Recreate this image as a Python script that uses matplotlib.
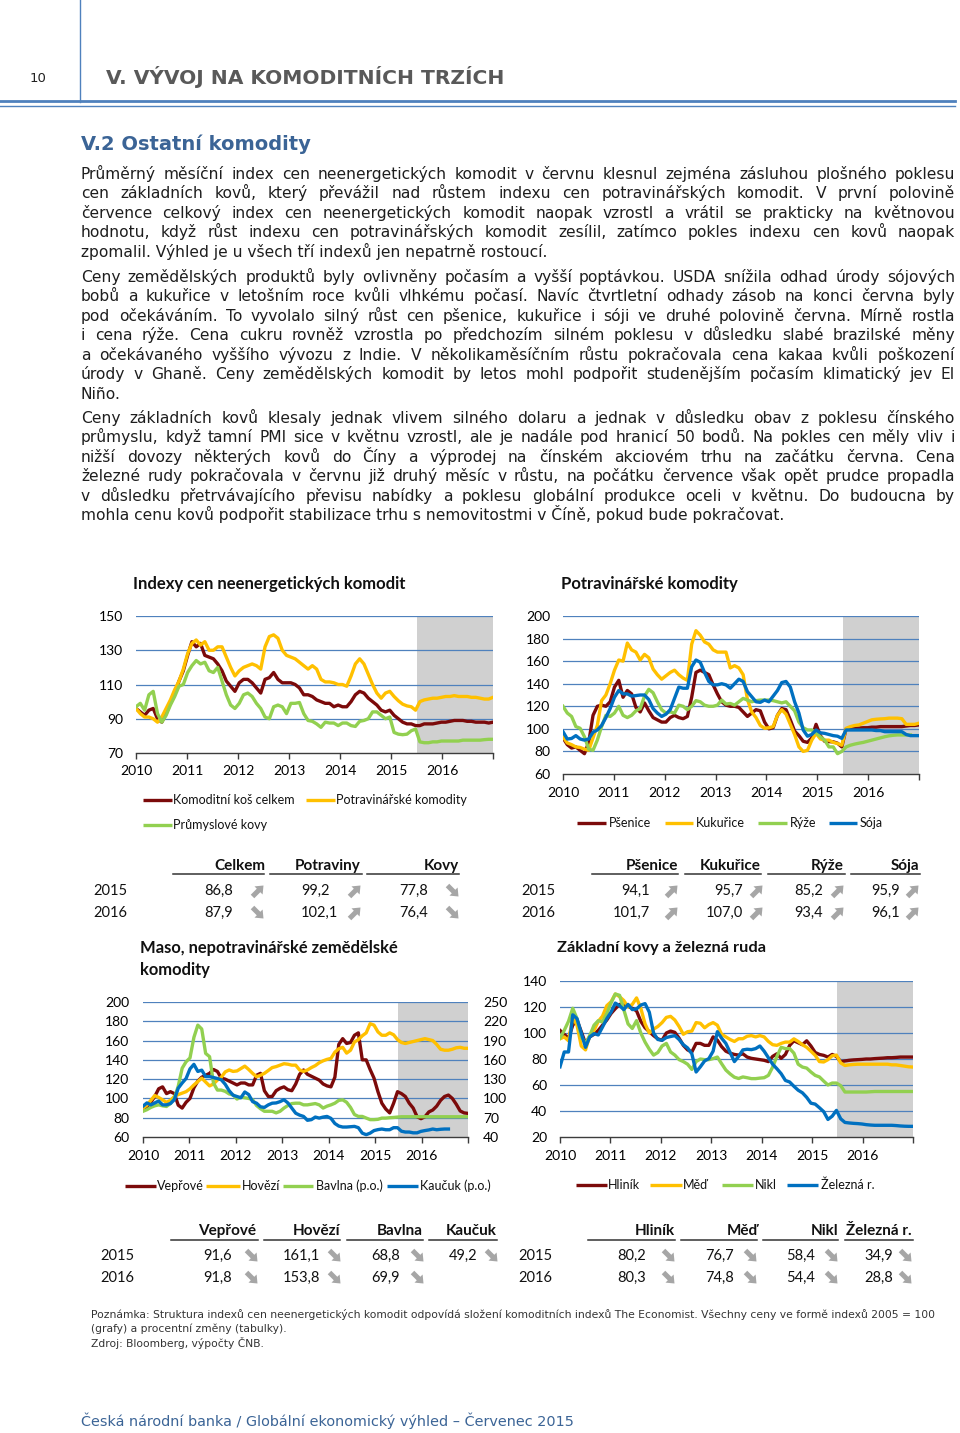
import numpy as np
import matplotlib
matplotlib.use('Agg')
import matplotlib.pyplot as plt
from matplotlib.patches import FancyArrow

plt.rcParams['font.family'] = ['Lato', 'DejaVu Sans']
nan = np.nan

# ======================= DATA =======================
year_labels = ['2010', '2011', '2012', '2013', '2014', '2015', '2016']
forecast_start = 2015.5

# Chart 1: Indexy cen neenergetických komodit
ch1_title = 'Indexy cen neenergetických komodit'
ch1_labels = ['Komoditní koš celkem', 'Potravinářské komodity', 'Průmyslové kovy']
ch1_yticks = [70, 90, 110, 130, 150]
ch1_total = [96, 94, 92, 95, 96, 90, 88, 93, 99, 105, 112, 118,
             127, 135, 132, 134, 127, 126, 125, 122, 118, 112, 109, 106,
             111, 113, 113, 111, 108, 105, 113, 114, 117, 113, 111, 111,
             111, 110, 108, 104, 104, 103, 101, 100, 99, 99, 97, 98,
             97, 97, 100, 104, 106, 105, 102, 100, 98, 95, 94, 95,
             92, 90, 88, 87, 87, 86, 86, 87, 87, 87, 87.5, 88,
             88, 88.5, 89, 89, 89, 88.5, 88.5, 88, 88, 88, 87.5, 88]
ch1_food = [96, 93, 91, 91, 90, 88, 91, 96, 101, 107, 112, 119,
            128, 134, 136, 133, 135, 130, 130, 132, 132, 126, 120, 115,
            118, 120, 121, 122, 121, 119, 132, 138, 139, 137, 130, 127,
            126, 125, 123, 121, 119, 121, 119, 113, 111.5, 111.5, 111, 110,
            110, 109, 115, 122, 125, 122, 116, 110, 105, 102, 105, 106,
            103, 100.5, 98.5, 97.5, 97, 95, 100, 101, 101.5, 102, 102, 102.5,
            103, 103, 103.5, 103, 103, 103, 102.5, 102.5, 102, 101.5, 101.5, 102.5]
ch1_metals = [97, 99, 95, 104, 106, 93, 88, 92, 98, 103, 109, 110,
              117, 121, 124, 122, 123, 118, 117, 120, 112, 104, 98, 96,
              99, 104, 105, 103, 99, 96, 91, 90, 97, 98, 97, 93,
              99, 99, 99.5, 93, 89, 88.5, 87, 85, 88, 87.5, 87.5, 86,
              87.5, 87.5, 86, 85.5, 88.5, 89, 90, 94, 94, 92, 90, 91,
              82, 81, 80.7, 81, 83, 84, 76.5, 76, 76, 76.5, 76.5, 77,
              77, 77, 77, 77, 77.5, 77.5, 77.5, 77.5, 77.5, 77.8, 78, 78]

# Chart 2: Potravinářské komodity
ch2_title = 'Potravinářské komodity'
ch2_labels = ['Pšenice', 'Kukuřice', 'Rýže', 'Sója']
ch2_yticks = [60, 80, 100, 120, 140, 160, 180, 200]
ch2_wheat = [92, 86, 83, 84, 81, 78, 88, 112, 120, 121, 120, 124,
             137, 143, 128, 134, 131, 119, 115, 123, 116, 110, 108, 106,
             106, 110, 112, 110, 109, 111, 128, 150, 152, 150, 148, 139,
             131, 124, 121, 120, 120, 119, 115, 111, 114, 117, 116, 106,
             100, 101, 112, 118, 117, 108, 98, 94, 89, 88, 92, 104,
             94, 89, 88.7, 88.5, 87.3, 84, 100, 100.3, 100.5, 100.7, 101, 101,
             101.5, 101.5, 102, 102, 102, 102, 102, 102, 102.5, 103, 103, 103.5]
ch2_corn = [93, 87.5, 86, 84, 83.5, 82, 81, 92, 103, 125, 130, 140,
            152, 161, 160, 176, 170, 168, 161, 166, 163, 153, 148, 144,
            147, 150, 152, 148, 145, 143, 175, 187, 183, 177, 175, 170,
            168, 168, 168, 154, 156, 154, 148, 126, 115, 110, 103, 100.5,
            101, 102, 112, 117, 113, 104, 95, 84, 80, 81, 90, 96,
            91, 90, 90, 88, 87, 85.5, 100.5, 102, 103, 103.5, 105, 106.5,
            108, 108.5, 108.8, 109, 109.5, 109.5, 109.5, 109, 104, 104, 104, 105]
ch2_rice = [120, 114, 111, 102, 100.5, 93, 82, 81, 90, 102, 112, 111,
            114, 120, 112, 110, 112, 116, 118, 129, 135, 132, 124, 117,
            114, 115, 114, 121, 120, 117, 120, 125, 124, 121, 120, 120,
            121, 125.5, 122, 122.5, 121, 124, 127, 125.5, 124, 125, 125.5, 125.5,
            125.5, 125, 124, 123, 124, 120, 116, 106, 101, 99, 99, 96.5,
            93, 90, 84, 84, 78, 80, 84, 85.5, 86.5, 87.3, 88, 89,
            90, 91, 92, 93, 93.8, 94.3, 94.6, 94.6, 94.6, 94.6, nan, nan]
ch2_soy = [97.5, 91, 91.5, 94, 91, 90, 91, 97, 99, 103, 110, 118,
           128, 134, 131, 131, 129, 129.5, 130, 130, 126, 118, 114, 111,
           113, 117, 127, 137, 136, 136, 155, 161, 159, 150, 142, 139,
           139, 140, 139, 136, 140, 144, 142, 133, 128.5, 124, 123.5, 125.5,
           124, 129, 134, 141, 142, 137, 124, 114, 99, 93.5, 95, 99,
           96.5, 96, 95, 94, 93.5, 91.6, 99, 99, 99, 99, 99, 99,
           99, 98.5, 98.5, 97.5, 97.5, 97.5, 97.5, 97.5, 95, 94, 94, 94]

# Chart 3: Maso, nepotravinářské zemědělské komodity
ch3_title = ['Maso, nepotravinářské zemědělské', 'komodity']
ch3_labels = ['Vepřové', 'Hovězí', 'Bavlna (p.o.)', 'Kaučuk (p.o.)']
ch3_yticks_left = [60, 80, 100, 120, 140, 160, 180, 200]
ch3_yticks_right = [40, 70, 100, 130, 160, 190, 220, 250]
ch3_pork = [88, 91, 96, 102, 110, 112, 105, 107, 105, 93, 90, 96,
            100, 111, 118, 122, 124, 126, 130, 128, 121, 120, 118, 116,
            114, 116, 116, 114, 114, 124, 126, 108, 102, 102, 108, 110.5,
            112, 109, 108, 115, 125, 129.5, 125, 123, 121, 119, 115, 113,
            112, 122, 156, 162, 157, 158, 165.5, 168, 140, 140, 130, 121,
            107, 95, 89, 85, 95, 107, 105, 102, 95, 90, 81, 79,
            81, 86, 88, 92, 98, 102, 103.5, 100, 94, 87, 85, 84.5]
ch3_beef = [90, 93, 98, 103, 101, 98.5, 96, 98, 102, 104, 105.5, 107,
            110, 114, 117.5, 121, 117, 113, 115, 119, 122, 127.5, 129.5, 128,
            128.5, 131, 133.5, 130, 126, 122.5, 124, 126, 129, 132, 133, 134.5,
            136, 135.5, 134.5, 134.5, 129.5, 128, 129.5, 132, 134, 137, 139, 140.5,
            141.5, 148, 151.5, 153, 147, 150, 158.5, 161, 165, 168, 177.5, 176,
            169, 165.5, 165.5, 168, 166, 161, 158, 157, 158, 159, 160, 161,
            162, 161, 160, 156, 151, 150, 150, 151, 152.5, 153, 152, 152]
ch3_cotton = [80, 82.5, 86, 88.5, 90, 88.5, 87.5, 92, 100.5, 119, 147, 157,
              163, 195, 214, 208, 170, 165, 124, 113, 113, 111, 107, 105.5,
              99, 102, 101, 100, 98, 89, 84, 80, 80, 80, 77.5, 80,
              85, 89, 92, 92.6, 92.6, 90, 90, 91, 92, 90, 85, 88,
              90, 92.6, 97, 97.8, 94, 86, 75, 72, 72, 69.5, 67, 67,
              67.5, 69.4, 69.4, 70, 70.4, 71, 71.5, 71.5, 71.5, 71.5, 71.5, 71.5,
              71.5, 71.5, 71.5, 71.5, 71.5, 71.5, 71.5, 71.5, 71.5, 71.5, 71.5, 71.5]
ch3_rubber = [88, 93, 90, 93, 96, 90, 90, 92, 98, 116, 124, 131,
              146, 153, 142, 144, 134, 134, 132.5, 131, 129, 122, 112, 105,
              103, 101, 110, 106, 95, 92.6, 87, 86, 90, 92.6, 93, 95,
              98, 93, 85, 77, 74, 72, 66, 67, 71, 69.4, 71, 72,
              69, 61, 57, 55.5, 55.5, 56, 56.5, 54.5, 46, 43.6, 46, 50,
              51.5, 52.4, 51.3, 51.3, 54.5, 54.5, 49, 47.7, 47.7, 46.5, 46.5, 48.8,
              50, 51, 52.4, 51.3, 52, 52.4, 52.4, nan, nan, nan, nan, nan]

# Chart 4: Základní kovy a železná ruda
ch4_title = 'Základní kovy a železná ruda'
ch4_labels = ['Hliník', 'Měď', 'Nikl', 'Železná r.']
ch4_yticks = [20, 40, 60, 80, 100, 120, 140]
ch4_alu = [102, 99, 96, 106, 110, 101, 92, 97, 99, 102, 106, 110,
           115, 118.7, 122, 121.3, 120.5, 119, 117, 109, 104, 101, 98, 95.5,
           94.4, 100, 101.5, 100.5, 96, 90.5, 87, 85.4, 92, 92, 90.5, 90.5,
           97, 94.5, 89.5, 86, 84.5, 83.5, 83, 84, 81.5, 80.5, 80, 79.5,
           79, 78, 82, 84, 80.5, 83.5, 90.5, 94, 92.5, 91, 94, 90,
           85, 83.5, 82.8, 81.5, 83.5, 82, 78, 78.5, 79, 79.3, 79.5, 79.7,
           80, 80, 80.3, 80.5, 80.7, 81, 81, 81.2, 81.5, 81.5, 81.5, 81.5]
ch4_copper = [95.6, 97, 94, 112, 106, 90, 87, 98, 102, 109, 113, 121,
              124, 130, 128, 125, 120, 122, 127, 119, 107, 100, 103, 105,
              108, 112, 112.8, 110, 105, 99, 101, 101.5, 108, 107.5, 104, 106.5,
              108, 106, 99, 97, 95, 93.5, 95.6, 95.6, 97.5, 98, 97, 98,
              97, 93.5, 91, 90.5, 92, 93, 93, 95.5, 93.5, 91, 89, 86,
              82.8, 78, 77.7, 79.5, 82.5, 83, 77, 75, 75.5, 75.8, 76, 76,
              76, 76, 76, 76, 76, 76, 75.5, 75.5, 75, 74.5, 74, 73.8]
ch4_nickel = [96, 102, 109, 119, 111, 97, 92, 98, 106, 109.5, 108.5, 115,
              123, 130, 129, 118, 107, 103.5, 109.5, 100, 93, 87.5, 83, 85,
              90, 92, 85.4, 83, 79.5, 78, 76, 72, 78, 80, 79.5, 79.5,
              80.3, 81.5, 76.4, 71.5, 68.5, 66, 65, 66.2, 65.6, 64.9, 64.9, 65.3,
              65.6, 67.4, 73.8, 82, 89, 88, 88, 84.5, 76, 73.8, 73, 70,
              67.4, 66.2, 63, 60, 61.5, 61.5, 59.5, 54.6, 54.6, 54.6, 54.6, 54.6,
              54.6, 54.8, 55, 55, 55, 55, 55, 55, 55, 55, 55, 55]
ch4_iron = [74, 85.4, 85.4, 114, 111, 100, 89, 97, 99.5, 98.5, 104.6, 111,
            116, 123, 121, 118, 122, 118, 118.5, 121.5, 122.6, 116, 100, 95,
            94.4, 96.5, 97.3, 98, 95, 91, 88.5, 84, 70, 74, 78.5, 80.3,
            86, 101, 96, 92, 85, 78, 82, 87, 87.5, 87.2, 88, 90,
            86, 81, 76, 72.5, 68.7, 63.5, 62.3, 59, 56, 54, 50.5, 46,
            45.3, 42.5, 39.5, 33.5, 36, 40.5, 34, 31.2, 30.8, 30.5, 30.3, 30,
            29.5, 29.2, 29, 29, 29, 29, 29, 28.8, 28.5, 28.3, 28.2, 28.2]

# Tables
row_years = ['2015', '2016']
t1_cols = ['Celkem', 'Potraviny', 'Kovy']
t1_vals = [['86,8', '99,2', '77,8'], ['87,9', '102,1', '76,4']]
t1_trend = [['up', 'up', 'down'], ['down', 'up', 'down']]
t2_cols = ['Pšenice', 'Kukuřice', 'Rýže', 'Sója']
t2_vals = [['94,1', '95,7', '85,2', '95,9'], ['101,7', '107,0', '93,4', '96,1']]
t2_trend = [['up', 'up', 'up', 'up'], ['up', 'up', 'up', 'up']]
t3_cols = ['Vepřové', 'Hovězí', 'Bavlna', 'Kaučuk']
t3_vals = [['91,6', '161,1', '68,8', '49,2'], ['91,8', '153,8', '69,9', '']]
t3_trend = [['down', 'down', 'down', 'down'], ['down', 'down', 'down', '']]
t4_cols = ['Hliník', 'Měď', 'Nikl', 'Železná r.']
t4_vals = [['80,2', '76,7', '58,4', '34,9'], ['80,3', '74,8', '54,4', '28,8']]
t4_trend = [['down', 'down', 'down', 'down'], ['down', 'down', 'down', 'down']]

# Texts
page_no = '10'
chapter = 'V. VÝVOJ NA KOMODITNÍCH TRZÍCH'
section = 'V.2 Ostatní komodity'
paragraphs = [
    ['Průměrný měsíční index cen neenergetických komodit v červnu klesnul zejména zásluhou plošného poklesu',
     'cen základních kovů, který převážil nad růstem indexu cen potravinářských komodit. V první polovině',
     'července celkový index cen neenergetických komodit naopak vzrostl a vrátil se prakticky na květnovou',
     'hodnotu, když růst indexu cen potravinářských komodit zesílil, zatímco pokles indexu cen kovů naopak',
     'zpomalil. Výhled je u všech tří indexů jen nepatrně rostoucí.'],
    ['Ceny zemědělských produktů byly ovlivněny počasím a vyšší poptávkou. USDA snížila odhad úrody sójových',
     'bobů a kukuřice v letošním roce kvůli vlhkému počasí. Navíc čtvrtletní odhady zásob na konci června byly',
     'pod očekáváním. To vyvolalo silný růst cen pšenice, kukuřice i sóji ve druhé polovině června. Mírně rostla',
     'i cena rýže. Cena cukru rovněž vzrostla po předchozím silném poklesu v důsledku slabé brazilské měny',
     'a očekávaného vyššího vývozu z Indie. V několikaměsíčním růstu pokračovala cena kakaa kvůli poškození',
     'úrody v Ghaně. Ceny zemědělských komodit by letos mohl podpořit studenějším počasím klimatický jev El',
     'Niño.'],
    ['Ceny základních kovů klesaly jednak vlivem silného dolaru a jednak v důsledku obav z poklesu čínského',
     'průmyslu, když tamní PMI sice v květnu vzrostl, ale je nadále pod hranicí 50 bodů. Na pokles cen měly vliv i',
     'nižší dovozy některých kovů do Číny a výprodej na čínském akciovém trhu na začátku června. Cena',
     'železné rudy pokračovala v červnu již druhý měsíc v růstu, na počátku července však opět prudce propadla',
     'v důsledku přetrvávajícího převisu nabídky a poklesu globální produkce oceli v květnu. Do budoucna by',
     'mohla cenu kovů podpořit stabilizace trhu s nemovitostmi v Číně, pokud bude pokračovat.'],
]
note_lines = ['Poznámka: Struktura indexů cen neenergetických komodit odpovídá složení komoditních indexů The Economist. Všechny ceny ve formě indexů 2005 = 100',
              '(grafy) a procentní změny (tabulky).',
              'Zdroj: Bloomberg, výpočty ČNB.']
footer = 'Česká národní banka / Globální ekonomický výhled – Červenec 2015'

# ======================= STYLE =======================
RED, YEL, GRN, BLU = '#7b0a0a', '#ffc000', '#92d050', '#0070c0'
SHADE, GRID = '#d0d0d0', '#4f81bd'
BLUE_TXT = '#3b6496'
BODY_FONT = ['DejaVu Sans']
LW = 2.4

W, H = 960, 1433
fig = plt.figure(figsize=(W / 100, H / 100), dpi=100)
ov = fig.add_axes([0, 0, 1, 1])
ov.set_xlim(0, W)
ov.set_ylim(H, 0)
ov.axis('off')
R = fig.canvas.get_renderer()


def text_w(s, **kw):
    t = ov.text(0, 0, s, **kw)
    w = t.get_window_extent(R).width
    t.remove()
    return w


def fit_text(x, y, s, width, base=10, **kw):
    fs = base * width / text_w(s, fontsize=base, **kw)
    ov.text(x, y, s, fontsize=fs, **kw)
    return fs


# ---------- header ----------
ov.plot([80, 80], [0, 102], color='#4f81bd', lw=1.0)
ov.plot([0, 955], [101, 101], color='#4f81bd', lw=2.0)
ov.plot([0, 955], [105.5, 105.5], color='#4f81bd', lw=1.0)
ov.text(30, 78, page_no, fontsize=9.5, family=BODY_FONT, va='center', ha='left', color='#222222')
fit_text(106, 84, chapter, 399, base=14, family=BODY_FONT, fontweight='bold',
         color='#595959', va='baseline')
fit_text(81, 150, section, 230, base=14, family=BODY_FONT, fontweight='bold',
         color=BLUE_TXT, va='baseline')

# ---------- body text (justified) ----------
X0, X1 = 81, 955
body_kw = dict(family=BODY_FONT, va='baseline', ha='left', color='#1e1e1e')
full_lines = [l for p in paragraphs for l in p[:-1]]
fs_body = 10 * min((X1 - X0) / (text_w(l, fontsize=10, **body_kw) * 1.004) for l in full_lines)
fs_body = min(fs_body, 11.2)
starts = [179, 282, 423]
step = 19.45
for p, y0 in zip(paragraphs, starts):
    for k, line in enumerate(p):
        y = y0 + k * step
        if k == len(p) - 1:
            ov.text(X0, y, line, fontsize=fs_body, **body_kw)
            continue
        words = line.split(' ')
        ws = [text_w(w_, fontsize=fs_body, **body_kw) for w_ in words]
        gap = (X1 - X0 - sum(ws)) / (len(words) - 1)
        x = X0
        for w_, wd in zip(words, ws):
            ov.text(x, y, w_, fontsize=fs_body, **body_kw)
            x += wd + gap


# ---------- charts ----------
def make_chart(box, ylim, yticks, series, colors, ylabpad=9.4, xlabpad=5.5):
    xl, xr, yt, yb = box
    ax = fig.add_axes([xl / W, 1 - yb / H, (xr - xl) / W, (yb - yt) / H])
    ax.patch.set_alpha(0)
    ax.set_xlim(2010, 2017)
    ax.set_ylim(*ylim)
    ax.axvspan(forecast_start, 2017, color=SHADE, lw=0, zorder=0)
    for v in yticks[1:]:
        ax.axhline(v, color=GRID, lw=0.9, zorder=1)
    ax.set_yticks(yticks)
    ax.set_yticklabels([str(v) for v in yticks])
    ax.set_xticks(np.arange(2010, 2018))
    ax.set_xticklabels(year_labels + [''])
    for sp in ('left', 'right', 'top'):
        ax.spines[sp].set_visible(False)
    ax.spines['bottom'].set_color('#3c3c3c')
    ax.spines['bottom'].set_linewidth(1.0)
    ax.tick_params(axis='x', length=4, width=1, color='#3c3c3c', pad=xlabpad, labelsize=10)
    ax.tick_params(axis='y', length=0, pad=ylabpad, labelsize=10)
    x = 2010 + np.arange(84) * 7 / 83
    for s, c in zip(series, colors):
        ax.plot(x, np.array(s, float), color=c, lw=LW, zorder=3, solid_joinstyle='round')
    return ax


title_kw = dict(fontweight='bold', va='center', ha='left', color='#111111')

# Chart 1
make_chart((136, 493, 616, 753), (70, 150), ch1_yticks,
           [ch1_total, ch1_food, ch1_metals], [RED, YEL, GRN], xlabpad=4.5)
fit_text(133, 584, ch1_title, 272, base=11.5, **title_kw)

# Chart 2
make_chart((563, 919, 616, 774), (60, 200), ch2_yticks,
           [ch2_wheat, ch2_corn, ch2_rice, ch2_soy], [RED, YEL, GRN, BLU])
fit_text(561, 584, ch2_title, 177, base=11.5, **title_kw)

# Chart 3 (two axes)
ax3 = make_chart((143, 468, 1002, 1137), (60, 200), ch3_yticks_left,
                 [ch3_pork, ch3_beef], [RED, YEL], ylabpad=10)
ax3r = ax3.twinx()
ax3r.set_ylim(40, 250)
ax3r.set_yticks(ch3_yticks_right)
ax3r.set_yticklabels([str(v) for v in ch3_yticks_right])
for sp in ('left', 'right', 'top', 'bottom'):
    ax3r.spines[sp].set_visible(False)
ax3r.tick_params(axis='y', length=0, pad=10.8, labelsize=10)
x3 = 2010 + np.arange(84) * 7 / 83
for s, c in zip([ch3_cotton, ch3_rubber], [GRN, BLU]):
    ax3r.plot(x3, np.array(s, float), color=c, lw=LW, zorder=3, solid_joinstyle='round')
fs3 = fit_text(140, 948, ch3_title[0], 258, base=11.5, **title_kw)
ov.text(140, 970, ch3_title[1], fontsize=fs3, **title_kw)

# Chart 4
make_chart((560, 913, 981, 1137), (20, 140), ch4_yticks,
           [ch4_alu, ch4_copper, ch4_nickel, ch4_iron], [RED, YEL, GRN, BLU])
fit_text(557, 948, ch4_title, 210, base=11.5, **title_kw)


# ---------- legends ----------
def legend(items, labels, colors):
    for (xa, xb, xt, y), lab, c in zip(items, labels, colors):
        ov.plot([xa, xb], [y, y], color=c, lw=LW, solid_capstyle='butt')
        ov.text(xt, y, lab, fontsize=9, va='center', ha='left', color='#111111')


legend([(143, 172, 173, 800), (306, 335, 336, 800), (143, 172, 173, 825)],
       ch1_labels, [RED, YEL, GRN])
legend([(577, 606, 609, 823), (665, 693, 696, 823), (758, 787, 790, 823), (829, 857, 860, 823)],
       ch2_labels, [RED, YEL, GRN, BLU])
legend([(125, 156, 157, 1186), (206, 240, 242, 1186), (283, 313, 316, 1186), (387, 418, 420, 1186)],
       ch3_labels, [RED, YEL, GRN, BLU])
legend([(576, 607, 608, 1185), (650, 682, 683, 1185), (722, 753, 755, 1185), (787, 818, 821, 1185)],
       ch4_labels, [RED, YEL, GRN, BLU])


# ---------- tables ----------
def arrow(cx, cy, d):
    s = 5.5
    if d == 'up':
        x0, y0, dx, dy = cx - s, cy + s, 2 * s, -2 * s
    else:
        x0, y0, dx, dy = cx - s, cy - s, 2 * s, 2 * s
    ov.add_patch(FancyArrow(x0, y0, dx, dy, width=5, head_width=11.5, head_length=7,
                            length_includes_head=True, color='#a6a6a6', lw=0))


def table(cols, vals, trends, L):
    for lab, xh in zip(cols, L['head_x']):
        ov.text(xh, L['head_y'], lab, ha='right', va='center', fontsize=11,
                fontweight='bold', color='#111111')
    for a, b in L['lines']:
        ov.plot([a, b], [L['line_y']] * 2, color='#333333', lw=1.1)
    for r, (yr, vrow, trow) in enumerate(zip(row_years, vals, trends)):
        y = L['rows'][r]
        ov.text(L['year_x'], y, yr, ha='left', va='center', fontsize=10.5, color='#111111')
        for j, (v, t) in enumerate(zip(vrow, trow)):
            if v:
                ov.text(L['val_x'][j], y, v, ha=L['val_ha'][j], va='center', fontsize=10.5,
                        color='#111111')
            if t:
                arrow(L['arr_x'][j], y, t)


table(t1_cols, t1_vals, t1_trend, dict(
    head_x=[265, 361, 459], head_y=866, line_y=874,
    lines=[(173, 264), (270, 362), (367, 459)], rows=[891, 913], year_x=93,
    val_x=[233, 301, 428], val_ha=['right', 'left', 'right'], arr_x=[258, 355, 453]))
table(t2_cols, t2_vals, t2_trend, dict(
    head_x=[678, 761, 844, 919], head_y=866, line_y=874,
    lines=[(592, 678), (685, 761), (768, 845), (851, 920)], rows=[891, 913], year_x=521,
    val_x=[650, 743, 823, 900], val_ha=['right'] * 4, arr_x=[672, 757, 838, 913]))
table(t3_cols, t3_vals, t3_trend, dict(
    head_x=[256, 340, 423, 497], head_y=1231, line_y=1240,
    lines=[(171, 258), (264, 340), (347, 423), (429, 497)], rows=[1256, 1278], year_x=100,
    val_x=[232, 320, 400, 477], val_ha=['right'] * 4, arr_x=[252, 335, 418, 492]))
table(t4_cols, t4_vals, t4_trend, dict(
    head_x=[675, 758, 838, 912], head_y=1231, line_y=1240,
    lines=[(588, 675), (681, 757), (763, 838), (845, 913)], rows=[1256, 1278], year_x=518,
    val_x=[646, 734, 815, 893], val_ha=['right'] * 4, arr_x=[669, 751, 832, 906]))

# ---------- note & footer ----------
note_kw = dict(family=BODY_FONT, va='center', ha='left', color='#333333')
fs_note = fit_text(91, 1315, note_lines[0], 846, base=8, **note_kw)
ov.text(91, 1329, note_lines[1], fontsize=fs_note, **note_kw)
ov.text(91, 1343, note_lines[2], fontsize=fs_note, **note_kw)
fit_text(81, 1421, footer, 491, base=10, family=BODY_FONT, va='center', ha='left', color=BLUE_TXT)

fig.savefig('out.png', dpi=100, facecolor='white')
